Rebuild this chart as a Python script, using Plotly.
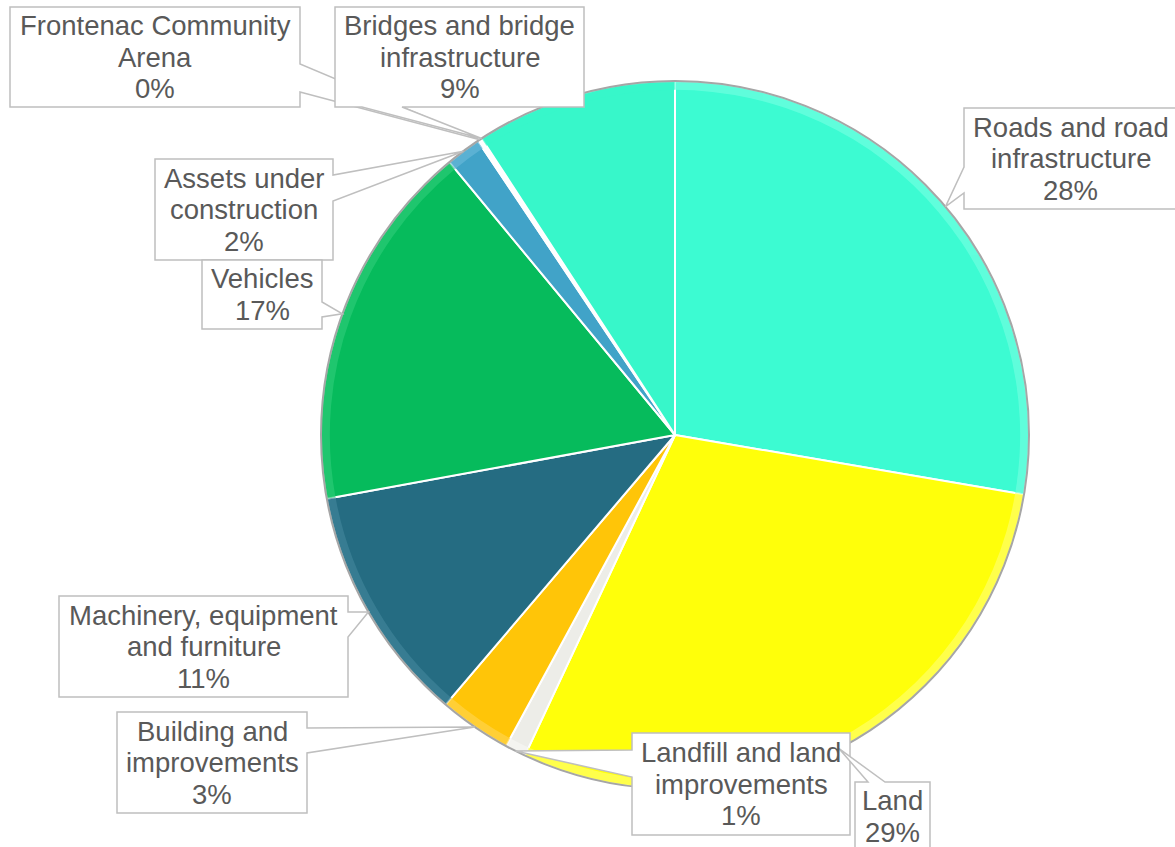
import math
import plotly.graph_objects as go

# Share of total capital assets by category (percent)
categories = [
    "Roads and road infrastructure",
    "Land",
    "Landfill and land improvements",
    "Building and improvements",
    "Machinery, equipment and furniture",
    "Vehicles",
    "Assets under construction",
    "Frontenac Community Arena",
    "Bridges and bridge infrastructure",
]
shares = [27.7, 29.3, 0.95, 3.3, 10.9, 16.9, 1.6, 0.2, 9.2]
label_lines = [
    ["Roads and road", "infrastructure"],
    ["Land"],
    ["Landfill and land", "improvements"],
    ["Building and", "improvements"],
    ["Machinery, equipment", "and furniture"],
    ["Vehicles"],
    ["Assets under", "construction"],
    ["Frontenac Community", "Arena"],
    ["Bridges and bridge", "infrastructure"],
]
slice_colors = [
    "#3CFBD2", "#FFFF0A", "#EDEDE8", "#FFC508", "#256C82",
    "#06BB5C", "#41A3C8", "#FFFFFF", "#37F7CA",
]
rim_colors = [
    "#6FFFE0", "#FFFF66", "#F7F7F4", "#FFD44A", "#3F8499",
    "#2ACB76", "#66B8D8", "#FFFFFF", "#37F7CA",
]

# Canvas and pie geometry (pixels, y measured downward)
W, H = 1175, 847
CX, CY, R = 675, 435, 354
LINE_PITCH = 31.5
LABEL_FONT = dict(family="Liberation Sans, Arial, sans-serif", size=27.5, color="#595959")

# Callout boxes: (x0, y0, x1, y1), side the pointer leaves from,
# span of the pointer base along that side, and where on the slice it points
callouts = {
    "Frontenac Community Arena": dict(box=(10, 7, 300, 107), side="right", base=(64, 92), at=0.5),
    "Bridges and bridge infrastructure": dict(box=(335, 7, 584, 107), side="bottom", base=(362, 402), at=0.0),
    "Roads and road infrastructure": dict(box=(964, 108, 1177, 209), side="left", base=(167, 193), at=0.5),
    "Assets under construction": dict(box=(155, 159, 333, 260), side="right", base=(175, 201), at=0.5),
    "Vehicles": dict(box=(202, 260, 322, 329), side="right", base=(302, 317), at=0.5),
    "Machinery, equipment and furniture": dict(box=(59, 596, 348, 697), side="right", base=(612, 637), at=0.5),
    "Building and improvements": dict(box=(117, 712, 307, 813), side="right", base=(728, 753), at=0.5),
    "Landfill and land improvements": dict(box=(632, 733, 850, 835), side="left", base=(750, 777), at=0.5),
    "Land": dict(box=(855, 782, 930, 851), side="top", base=(868, 885), at=0.5),
}
draw_order = [
    "Frontenac Community Arena",
    "Bridges and bridge infrastructure",
    "Roads and road infrastructure",
    "Assets under construction",
    "Vehicles",
    "Machinery, equipment and furniture",
    "Building and improvements",
    "Landfill and land improvements",
    "Land",
]

total = sum(shares)
cum = [0.0]
for v in shares:
    cum.append(cum[-1] + v)


def slice_point(i, frac):
    ang = math.radians(360.0 * (cum[i] + frac * shares[i]) / total)
    return CX + R * math.sin(ang), CY - R * math.cos(ang)


def callout_path(box, side, base, tip):
    x0, y0, x1, y1 = box
    a, b = base
    tx, ty = tip
    pts = [(x0, y0)]
    if side == "top":
        pts += [(a, y0), (tx, ty), (b, y0)]
    pts.append((x1, y0))
    if side == "right":
        pts += [(x1, a), (tx, ty), (x1, b)]
    pts.append((x1, y1))
    if side == "bottom":
        pts += [(b, y1), (tx, ty), (a, y1)]
    pts.append((x0, y1))
    if side == "left":
        pts += [(x0, b), (tx, ty), (x0, a)]
    return "M " + " L ".join(f"{x:.2f},{y:.2f}" for x, y in pts) + " Z"


pie_domain = dict(
    x=[(CX - R) / W, (CX + R) / W],
    y=[(H - CY - R) / H, (H - CY + R) / H],
)

fig = go.Figure()

fig.add_trace(go.Pie(
    labels=categories,
    values=shares,
    sort=False,
    direction="clockwise",
    rotation=0,
    textinfo="none",
    hoverinfo="label+percent",
    showlegend=False,
    marker=dict(colors=slice_colors, line=dict(color="#FFFFFF", width=2)),
    domain=pie_domain,
))

# lighter bevel band along the outer edge of each slice
fig.add_trace(go.Pie(
    labels=categories,
    values=shares,
    sort=False,
    direction="clockwise",
    rotation=0,
    hole=0.975,
    textinfo="none",
    hoverinfo="skip",
    showlegend=False,
    opacity=0.7,
    marker=dict(colors=rim_colors, line=dict(width=0)),
    domain=pie_domain,
))

# empty trace so the pixel-unit axes exist for shapes and annotations
fig.add_trace(go.Scatter(x=[], y=[], showlegend=False, hoverinfo="skip"))

shapes = [
    dict(type="circle", xref="x", yref="y", x0=CX - R, y0=CY - R, x1=CX + R, y1=CY + R,
         line=dict(color="#A6A6A6", width=2), fillcolor="rgba(0,0,0,0)", layer="above"),
]
annotations = []
for name in draw_order:
    i = categories.index(name)
    c = callouts[name]
    tip = slice_point(i, c["at"])
    shapes.append(dict(
        type="path", xref="x", yref="y",
        path=callout_path(c["box"], c["side"], c["base"], tip),
        fillcolor="#FFFFFF", line=dict(color="#BFBFBF", width=1.5), layer="above",
    ))
    pct = round(shares[i] / total * 100)
    lines = label_lines[i] + [f"{pct}%"]
    x0, y0, x1, y1 = c["box"]
    xc, yc = (x0 + x1) / 2, (y0 + y1) / 2
    for k, line in enumerate(lines):
        annotations.append(dict(
            xref="x", yref="y", x=xc, y=yc + (k - (len(lines) - 1) / 2) * LINE_PITCH,
            text=line, showarrow=False, xanchor="center", yanchor="middle",
            font=LABEL_FONT,
        ))

fig.update_layout(
    width=W, height=H,
    margin=dict(l=0, r=0, t=0, b=0),
    paper_bgcolor="#FFFFFF",
    plot_bgcolor="rgba(0,0,0,0)",
    xaxis=dict(range=[0, W], visible=False, fixedrange=True, domain=[0, 1]),
    yaxis=dict(range=[H, 0], visible=False, fixedrange=True, domain=[0, 1]),
    shapes=shapes,
    annotations=annotations,
)

fig.write_html("out.html")
